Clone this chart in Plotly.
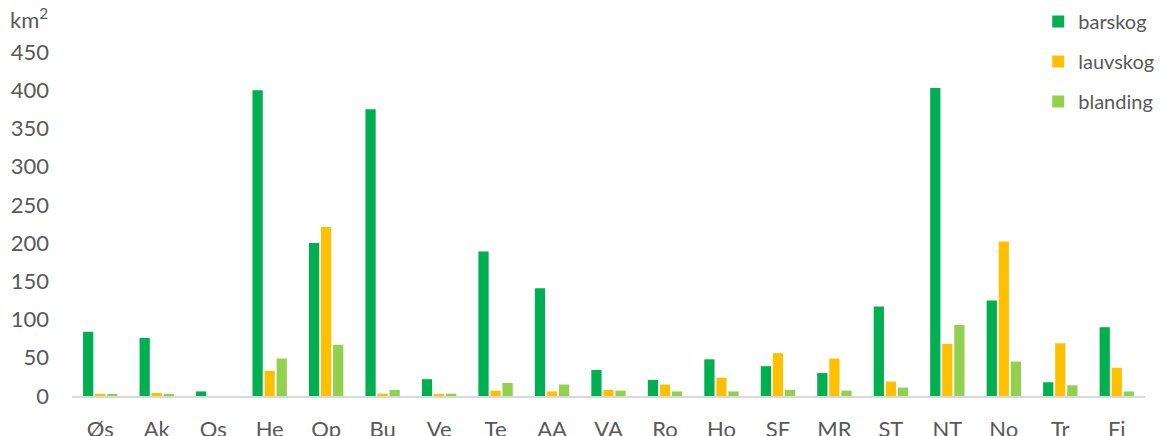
import plotly.graph_objects as go

categories = ["Øs", "Ak", "Os", "He", "Op", "Bu", "Ve", "Te", "AA", "VA",
              "Ro", "Ho", "SF", "MR", "ST", "NT", "No", "Tr", "Fi"]
barskog = [84, 76, 6, 400, 200, 375, 22, 189, 141, 34,
           21, 48, 39, 30, 117, 403, 125, 18, 90]
lauvskog = [3, 4, 0, 33, 221, 3, 2, 7, 6, 8,
            15, 24, 56, 49, 19, 68, 202, 69, 37]
blanding = [1.5, 1.5, 0, 49, 67, 8, 3, 17, 15, 7,
            6, 6, 8, 7, 11, 93, 45, 14, 6]
y_ticks = [0, 50, 100, 150, 200, 250, 300, 350, 400, 450]

series = [("barskog", barskog, "#00B050"),
          ("lauvskog", lauvskog, "#FFC000"),
          ("blanding", blanding, "#92D050")]

fig = go.Figure()
for name, vals, col in series:
    fig.add_trace(go.Bar(x=categories, y=vals, name=name, marker_color=col,
                         marker_line_width=0, legendgroup=name))

font_family = "Lato, Open Sans, sans-serif"
fig.update_layout(
    width=1164, height=436,
    margin=dict(l=64, r=27, t=44, b=48, autoexpand=False),
    plot_bgcolor="white", paper_bgcolor="white",
    barmode="group", bargap=0.36, bargroupgap=0.15,
    font=dict(family=font_family, size=22, color="#595959"),
    showlegend=True,
    legend=dict(x=0.9005, y=1.145, xanchor="left", yanchor="top",
                bgcolor="rgba(0,0,0,0)", tracegroupgap=11,
                font=dict(size=20, color="#595959"), itemwidth=30),
    xaxis=dict(showline=True, linecolor="#D9D9D9", linewidth=2,
               showgrid=False, ticks="", ticklabelstandoff=13,
               automargin=False,
               tickfont=dict(size=22, color="#595959")),
    yaxis=dict(range=[0, 450], tickvals=y_ticks, showgrid=False,
               zeroline=False, showline=False, ticks="",
               ticklabelstandoff=22, automargin=False,
               tickfont=dict(size=22, color="#595959")),
)
fig.add_annotation(text="km<sup>2</sup>", xref="paper", yref="paper", x=-0.0596, y=1.145,
                   xanchor="left", yanchor="top", showarrow=False,
                   font=dict(size=22, color="#595959", family=font_family))

fig.write_html("out.html")
